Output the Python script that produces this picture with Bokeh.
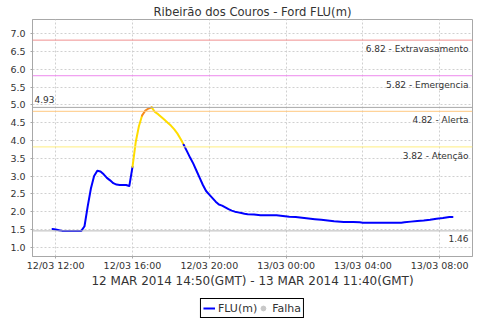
import pandas as pd
from bokeh.plotting import figure
from bokeh.layouts import column
from bokeh.models import (Range1d, FixedTicker, DatetimeTickFormatter, NumeralTickFormatter,
                          Span, Label, Legend, LegendItem)
from bokeh.embed import file_html
from bokeh.resources import INLINE

# ---------------- data ----------------
chart_title = "Ribeirão dos Couros - Ford FLU(m)"
period_label = "12 MAR 2014 14:50(GMT) - 13 MAR 2014 11:40(GMT)"
series_name = "FLU(m)"
fail_name = "Falha"

times = [
    "2014-03-12 11:50", "2014-03-12 12:00", "2014-03-12 12:10", "2014-03-12 12:20",
    "2014-03-12 12:40", "2014-03-12 13:00", "2014-03-12 13:20", "2014-03-12 13:30",
    "2014-03-12 13:40", "2014-03-12 13:50", "2014-03-12 14:00", "2014-03-12 14:10",
    "2014-03-12 14:20", "2014-03-12 14:30", "2014-03-12 14:40", "2014-03-12 14:50",
    "2014-03-12 15:00", "2014-03-12 15:10", "2014-03-12 15:20", "2014-03-12 15:30",
    "2014-03-12 15:40", "2014-03-12 15:50", "2014-03-12 16:00", "2014-03-12 16:10",
    "2014-03-12 16:20", "2014-03-12 16:30", "2014-03-12 16:40", "2014-03-12 16:50",
    "2014-03-12 17:00", "2014-03-12 17:10", "2014-03-12 17:20", "2014-03-12 17:30",
    "2014-03-12 17:40", "2014-03-12 17:50", "2014-03-12 18:00", "2014-03-12 18:10",
    "2014-03-12 18:20", "2014-03-12 18:30", "2014-03-12 18:40", "2014-03-12 18:50",
    "2014-03-12 19:00", "2014-03-12 19:10", "2014-03-12 19:20", "2014-03-12 19:30",
    "2014-03-12 19:40", "2014-03-12 19:50", "2014-03-12 20:00", "2014-03-12 20:10",
    "2014-03-12 20:20", "2014-03-12 20:30", "2014-03-12 20:40", "2014-03-12 20:50",
    "2014-03-12 21:00", "2014-03-12 21:10", "2014-03-12 21:20", "2014-03-12 21:30",
    "2014-03-12 21:40", "2014-03-12 21:50", "2014-03-12 22:00", "2014-03-12 22:20",
    "2014-03-12 22:40", "2014-03-12 23:00", "2014-03-12 23:30", "2014-03-12 23:50",
    "2014-03-13 00:10", "2014-03-13 00:30", "2014-03-13 00:50", "2014-03-13 01:10",
    "2014-03-13 01:30", "2014-03-13 01:50", "2014-03-13 02:10", "2014-03-13 02:30",
    "2014-03-13 03:00", "2014-03-13 03:30", "2014-03-13 03:50", "2014-03-13 04:00",
    "2014-03-13 04:30", "2014-03-13 05:00", "2014-03-13 05:30", "2014-03-13 06:00",
    "2014-03-13 06:10", "2014-03-13 06:30", "2014-03-13 06:50", "2014-03-13 07:10",
    "2014-03-13 07:30", "2014-03-13 07:50", "2014-03-13 08:10", "2014-03-13 08:30",
    "2014-03-13 08:40",
]
flu = [
    1.51, 1.50, 1.48, 1.46,
    1.46, 1.46, 1.46, 1.59,
    2.15, 2.65, 3.00, 3.15,
    3.13, 3.05, 2.95, 2.88,
    2.80, 2.76, 2.75, 2.75,
    2.75, 2.72, 3.26, 3.95,
    4.40, 4.70, 4.84, 4.90,
    4.93, 4.80, 4.74, 4.66,
    4.58, 4.50, 4.42, 4.32,
    4.20, 4.05, 3.88, 3.70,
    3.52, 3.35, 3.15, 2.95,
    2.75, 2.58, 2.48, 2.38,
    2.28, 2.20, 2.17, 2.12,
    2.07, 2.03, 2.00, 1.98,
    1.96, 1.94, 1.93, 1.92,
    1.90, 1.90, 1.90, 1.88,
    1.86, 1.85, 1.83, 1.81,
    1.79, 1.77, 1.75, 1.73,
    1.71, 1.71, 1.70, 1.69,
    1.69, 1.69, 1.69, 1.69,
    1.70, 1.72, 1.74, 1.75,
    1.77, 1.80, 1.82, 1.85,
    1.85,
]

level_values = [6.82, 5.82, 4.82, 3.82]
level_names = ["Extravasamento", "Emergencia", "Alerta", "Atenção"]
y_ticks = [1.0, 1.5, 2.0, 2.5, 3.0, 3.5, 4.0, 4.5, 5.0, 5.5, 6.0, 6.5, 7.0]
x_ticks = ["2014-03-12 12:00", "2014-03-12 16:00", "2014-03-12 20:00",
           "2014-03-13 00:00", "2014-03-13 04:00", "2014-03-13 08:00"]

# ---------------- styles ----------------
level_colors = ["#F09090", "#EE88EE", "#FFC880", "#FFEE80"]
seg_colors = ["#E03030", "#CC44CC", "#F58A1F", "#FFDD00"]
base_color = "#0000FF"
grey_line = "#A8A8A8"
text_color = "#333333"
FONT = "DejaVu Sans"

epoch = pd.Timestamp("1970-01-01")
def to_ms(lst):
    return [float((pd.Timestamp(s) - epoch) / pd.Timedelta(milliseconds=1)) for s in lst]

xs = to_ms(times)
xt = to_ms(x_ticks)
span_x = xs[-1] - xs[0]
x0, x1 = xs[0] - 0.05 * span_x, xs[-1] + 0.05 * span_x

p = figure(frame_width=440, frame_height=237, x_axis_type="datetime", output_backend="svg",
           toolbar_location=None, x_range=Range1d(x0, x1), y_range=Range1d(0.74, 7.40),
           min_border_left=32, min_border_right=8, min_border_top=19, min_border_bottom=40,
           background_fill_color="white", border_fill_color="white")

p.title.text = chart_title
p.title.align = "center"
p.title.text_font = FONT
p.title.text_font_size = "11.6px"
p.title.text_font_style = "normal"
p.title.text_color = text_color
p.title.offset = -12
p.title.standoff = 1

p.outline_line_color = grey_line
p.outline_line_width = 1

for ax in (p.xaxis[0], p.yaxis[0]):
    ax.axis_line_color = grey_line
    ax.major_tick_line_color = grey_line
    ax.major_tick_out = 2
    ax.major_tick_in = 0
    ax.minor_tick_line_color = None
    ax.major_label_text_font = FONT
    ax.major_label_text_font_size = "9.5px"
    ax.major_label_text_color = text_color

p.yaxis.ticker = FixedTicker(ticks=y_ticks)
p.yaxis.formatter = NumeralTickFormatter(format="0.0")
p.yaxis.major_label_standoff = 5

p.xaxis.ticker = FixedTicker(ticks=xt)
fmt = "%d/%m %H:%M"
p.xaxis.formatter = DatetimeTickFormatter(milliseconds=fmt, seconds=fmt, minsec=fmt, minutes=fmt,
                                          hourmin=fmt, hours=fmt, days=fmt, months=fmt, years=fmt)
p.xaxis.major_label_standoff = 1
p.xaxis.axis_label = period_label
p.xaxis.axis_label_text_font = FONT
p.xaxis.axis_label_text_font_size = "12px"
p.xaxis.axis_label_text_font_style = "normal"
p.xaxis.axis_label_text_color = text_color
p.xaxis.axis_label_standoff = 0

for g in (p.xgrid[0], p.ygrid[0]):
    g.grid_line_color = "#D0D0D0"
    g.grid_line_dash = "2 2"
    g.grid_line_width = 1

# threshold lines and labels
for val, name, col in zip(level_values, level_names, level_colors):
    p.add_layout(Span(location=val, dimension="width", line_color=col, line_width=1))
    p.add_layout(Label(x=x1, y=val, text=f"{val:.2f} - {name}", x_offset=-4, y_offset=-4,
                       text_align="right", text_baseline="top", text_font=FONT,
                       text_font_size="9px", text_color=text_color))

vmax, vmin = max(flu), min(flu)
p.add_layout(Span(location=vmax, dimension="width", line_color=grey_line, line_width=1))
p.add_layout(Span(location=vmin, dimension="width", line_color="#B8B8B8", line_width=1))
p.add_layout(Label(x=x0, y=vmax, text=f"{vmax:.2f}", x_offset=2, y_offset=4,
                   text_align="left", text_baseline="bottom", text_font=FONT,
                   text_font_size="9px", text_color=text_color))
p.add_layout(Label(x=x1, y=vmin, text=f"{vmin:.2f}", x_offset=-4, y_offset=-4,
                   text_align="right", text_baseline="top", text_font=FONT,
                   text_font_size="9px", text_color=text_color))

# coloured line: each segment takes the colour of the level reached by its end point
def seg_color(v):
    for lv, c in zip(level_values, seg_colors):
        if v >= lv:
            return c
    return base_color

runs_x, runs_y, runs_c = [], [], []
for i in range(1, len(flu)):
    c = seg_color(flu[i])
    if runs_c and runs_c[-1] == c:
        runs_x[-1].append(xs[i]); runs_y[-1].append(flu[i])
    else:
        runs_x.append([xs[i - 1], xs[i]]); runs_y.append([flu[i - 1], flu[i]]); runs_c.append(c)

p.multi_line(xs=runs_x, ys=runs_y, line_color=runs_c, line_width=2, line_join="round", line_cap="round")

# legend in a thin strip below the chart, centred on the whole width
lg = figure(width=480, height=24, output_backend="svg", toolbar_location=None,
            x_axis_location=None, y_axis_location=None,
            x_range=Range1d(0, 1), y_range=Range1d(0, 1), min_border=0,
            min_border_left=0, min_border_right=0, min_border_top=0, min_border_bottom=0,
            background_fill_color="white", border_fill_color="white")
lg.grid.visible = False
lg.outline_line_color = None
# legend-only renderers (the series' own points, which fall outside this strip's ranges)
r_line = lg.line(x=xs[:2], y=flu[:2], line_color=base_color, line_width=2)
r_fail = lg.scatter(x=xs[:1], y=flu[:1], marker="circle", size=7,
                    fill_color="#C8C8C8", line_color="#C8C8C8")
legend = Legend(items=[LegendItem(label=series_name, renderers=[r_line]),
                       LegendItem(label=fail_name, renderers=[r_fail])],
                orientation="horizontal", location="center",
                border_line_color="black", border_line_width=1, border_line_alpha=1,
                padding=2, spacing=0, margin=0, glyph_width=12, glyph_height=14,
                label_height=14, label_standoff=3, label_text_font=FONT,
                label_text_font_size="11px", label_text_color=text_color,
                background_fill_alpha=1)
lg.add_layout(legend)

layout = column(p, lg, spacing=0)
open("out.html", "w").write(file_html(layout, INLINE))
